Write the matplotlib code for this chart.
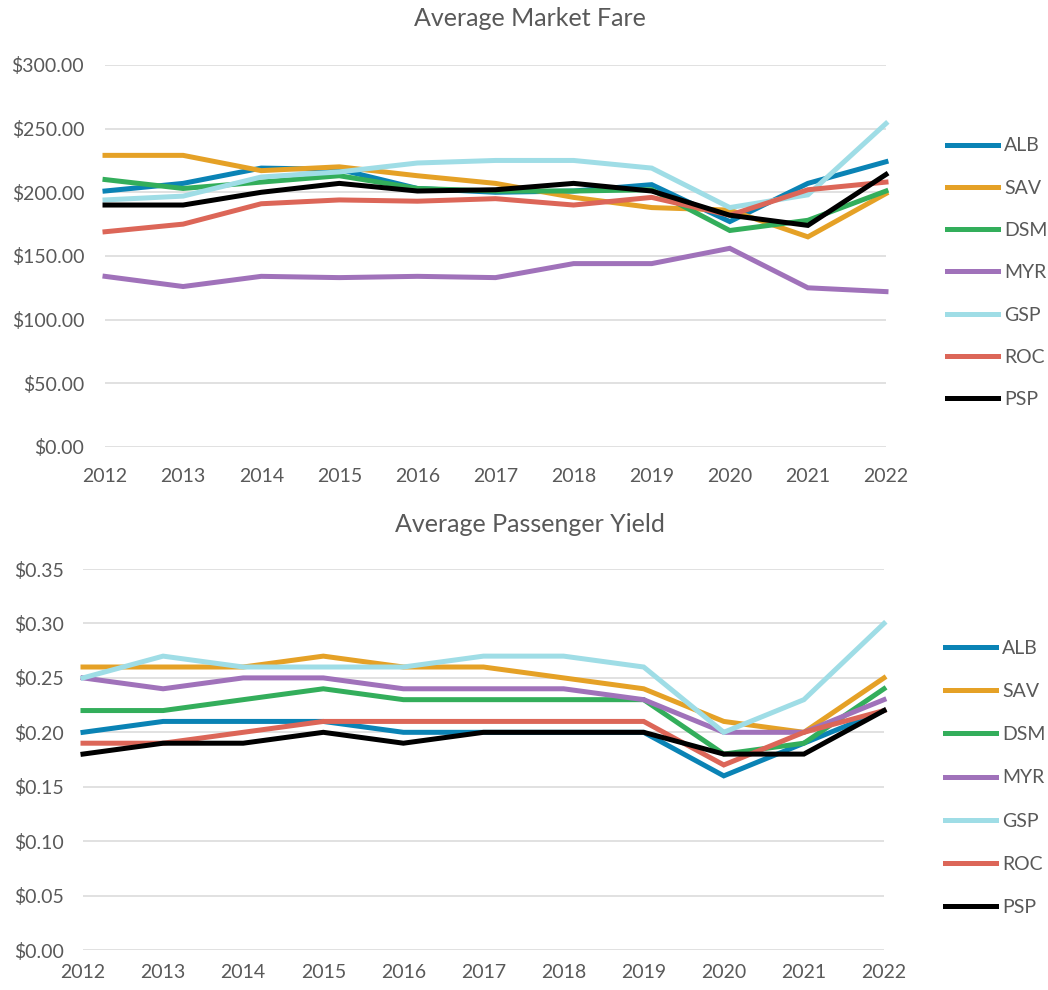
import numpy as np
import matplotlib
matplotlib.use("Agg")
import matplotlib.pyplot as plt
from matplotlib.ticker import FuncFormatter

plt.rcParams['font.family'] = ['Lato', 'DejaVu Sans']

# Data
years = [2012, 2013, 2014, 2015, 2016, 2017, 2018, 2019, 2020, 2021, 2022]
airports = ["ALB", "SAV", "DSM", "MYR", "GSP", "ROC", "PSP"]
colors = ["#0A83B5", "#E5A126", "#33AE5B", "#A072BA", "#9FDDE6", "#DC6658", "#000000"]

# Average market fare ($)
fare_alb = [201, 207, 219, 218, 203, 200, 201, 206, 177, 207, 224]
fare_sav = [229, 229, 217, 220, 213, 207, 196, 188, 186, 165, 199]
fare_dsm = [210, 203, 208, 213, 203, 201, 201, 202, 170, 178, 201]
fare_myr = [134, 126, 134, 133, 134, 133, 144, 144, 156, 125, 122]
fare_gsp = [194, 197, 212, 216, 223, 225, 225, 219, 188, 198, 254]
fare_roc = [169, 175, 191, 194, 193, 195, 190, 196, 182, 202, 208]
fare_psp = [190, 190, 200, 207, 201, 202, 207, 201, 182, 174, 214]

# Average passenger yield ($)
yld_alb = [0.20, 0.21, 0.21, 0.21, 0.20, 0.20, 0.20, 0.20, 0.16, 0.19, 0.22]
yld_sav = [0.26, 0.26, 0.26, 0.27, 0.26, 0.26, 0.25, 0.24, 0.21, 0.20, 0.25]
yld_dsm = [0.22, 0.22, 0.23, 0.24, 0.23, 0.23, 0.23, 0.23, 0.18, 0.19, 0.24]
yld_myr = [0.25, 0.24, 0.25, 0.25, 0.24, 0.24, 0.24, 0.23, 0.20, 0.20, 0.23]
yld_gsp = [0.25, 0.27, 0.26, 0.26, 0.26, 0.27, 0.27, 0.26, 0.20, 0.23, 0.30]
yld_roc = [0.19, 0.19, 0.20, 0.21, 0.21, 0.21, 0.21, 0.21, 0.17, 0.20, 0.22]
yld_psp = [0.18, 0.19, 0.19, 0.20, 0.19, 0.20, 0.20, 0.20, 0.18, 0.18, 0.22]

fares = [fare_alb, fare_sav, fare_dsm, fare_myr, fare_gsp, fare_roc, fare_psp]
ylds = [yld_alb, yld_sav, yld_dsm, yld_myr, yld_gsp, yld_roc, yld_psp]

txt = "#595959"
grid = "#D9D9D9"

fig = plt.figure(figsize=(10.48, 9.9), dpi=100)
ax1 = fig.add_axes([0.1002, 0.5485, 0.7452, 0.3859])
ax2 = fig.add_axes([0.0792, 0.0404, 0.7643, 0.3848])


def style(ax, yticks, fmt, ypad, xpad):
    ax.set_xlim(years[0], years[-1])
    ax.set_ylim(yticks[0], yticks[-1])
    ax.set_yticks(yticks)
    ax.set_xticks(years)
    ax.yaxis.set_major_formatter(FuncFormatter(fmt))
    for s in ax.spines.values():
        s.set_visible(False)
    ax.grid(axis='y', color=grid, lw=1.1)
    ax.set_axisbelow(True)
    ax.tick_params(length=0, labelsize=14, labelcolor=txt)
    ax.tick_params(axis='y', pad=ypad)
    ax.tick_params(axis='x', pad=xpad)
    for lbl in ax.get_xticklabels() + ax.get_yticklabels():
        lbl.set_clip_on(False)


for name, vals, c in zip(airports, fares, colors):
    ax1.plot(years, vals, color=c, lw=3.6, label=name, solid_joinstyle='miter', clip_on=False)
style(ax1, np.arange(0, 301, 50), lambda v, p: "${:,.2f}".format(v), 15, 15)
ax1.legend(loc='center left', bbox_to_anchor=(1.078, 0.456), frameon=False,
           borderpad=0, borderaxespad=0, handlelength=2.65, handletextpad=0.3,
           labelspacing=1.3, fontsize=14, labelcolor=txt)

for name, vals, c in zip(airports, ylds, colors):
    ax2.plot(years, vals, color=c, lw=3.6, label=name, solid_joinstyle='miter', clip_on=False)
style(ax2, np.round(np.arange(0, 0.351, 0.05), 2), lambda v, p: "${:.2f}".format(v), 14, 10)
ax2.legend(loc='center left', bbox_to_anchor=(1.076, 0.452), frameon=False,
           borderpad=0, borderaxespad=0, handlelength=2.65, handletextpad=0.3,
           labelspacing=1.35, fontsize=14, labelcolor=txt)

fig.text(530 / 1048, 1 - 18 / 990, "Average Market Fare", ha='center', va='center',
         fontsize=18, color=txt)
fig.text(530 / 1048, 1 - 524 / 990, "Average Passenger Yield", ha='center', va='center',
         fontsize=18, color=txt)

fig.savefig("out.png", dpi=100)
